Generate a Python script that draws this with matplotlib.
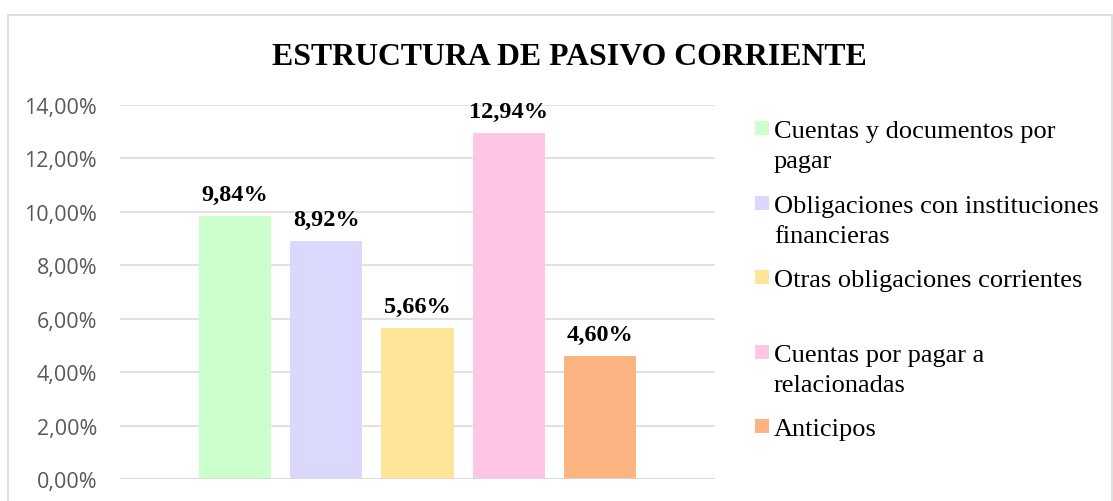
import matplotlib
matplotlib.use("Agg")
import matplotlib.pyplot as plt
from matplotlib.patches import Rectangle

TITLE = "ESTRUCTURA DE PASIVO CORRIENTE"
CATEGORIES = ["Cuentas y documentos por\npagar",
              "Obligaciones con instituciones\nfinancieras",
              "Otras obligaciones corrientes",
              "Cuentas por pagar a\nrelacionadas",
              "Anticipos"]
VALUES = [0.0984, 0.0892, 0.0566, 0.1294, 0.0460]
LABELS = ["9,84%", "8,92%", "5,66%", "12,94%", "4,60%"]
COLORS = ["#CCFFCC", "#DAD8FC", "#FEE598", "#FEC6E4", "#FEB482"]
YTICKS = [0.0, 0.02, 0.04, 0.06, 0.08, 0.10, 0.12, 0.14]
YTICK_LABELS = ["0,00%", "2,00%", "4,00%", "6,00%", "8,00%", "10,00%", "12,00%", "14,00%"]

W, H = 1113, 502
fig = plt.figure(figsize=(W / 100, H / 100), dpi=100)

# chart area border
fig.patches.append(Rectangle((8 / W, -0.1), (W - 9) / W, 1.1 - 16 / H,
                             transform=fig.transFigure, fill=False,
                             edgecolor="#d9d9d9", linewidth=1.2))

ax = fig.add_axes([120 / W, 22 / H, 595 / W, 374 / H])
x = list(range(len(VALUES)))
bars = ax.bar(x, VALUES, width=0.79, color=COLORS, zorder=3)
ax.set_xlim(2 - 3.26, 2 + 3.26)
ax.set_ylim(0, 0.14)
ax.set_yticks(YTICKS)
ax.set_yticklabels(YTICK_LABELS, fontfamily="Open Sans", fontsize=15.5, color="#595959")
ax.set_xticks([])
ax.tick_params(axis="y", length=0, pad=16.5)
ax.grid(axis="y", color="#d9d9d9", linewidth=1.1, zorder=0)
for s in ax.spines.values():
    s.set_visible(False)
ax.axhline(0, color="#d9d9d9", linewidth=1.1, zorder=4)

for b, lab in zip(bars, LABELS):
    ax.annotate(lab, (b.get_x() + b.get_width() / 2, b.get_height()),
                xytext=(0, 11.5), textcoords="offset points",
                ha="center", va="baseline", fontsize=17.5, fontweight="bold",
                fontfamily="Liberation Serif", zorder=5)

fig.text(569 / W, 1 - 65 / H, TITLE, ha="center", va="baseline",
         fontsize=22.9, fontweight="bold", fontfamily="Liberation Serif")

# legend, drawn by hand to match the spacing of the original
legend_mid = [129, 204, 278, 353, 427]
for name, col, yc in zip(CATEGORIES, COLORS, legend_mid):
    fig.patches.append(Rectangle((755 / W, 1 - (yc + 7) / H), 14 / W, 14 / H,
                                 transform=fig.transFigure, facecolor=col,
                                 edgecolor="none"))
    for i, line in enumerate(name.split("\n")):
        fig.text(774 / W, 1 - (yc + 9 + 30 * i) / H, line, ha="left", va="baseline",
                 fontsize=19, fontfamily="Liberation Serif")

fig.savefig("out.png", dpi=100)
